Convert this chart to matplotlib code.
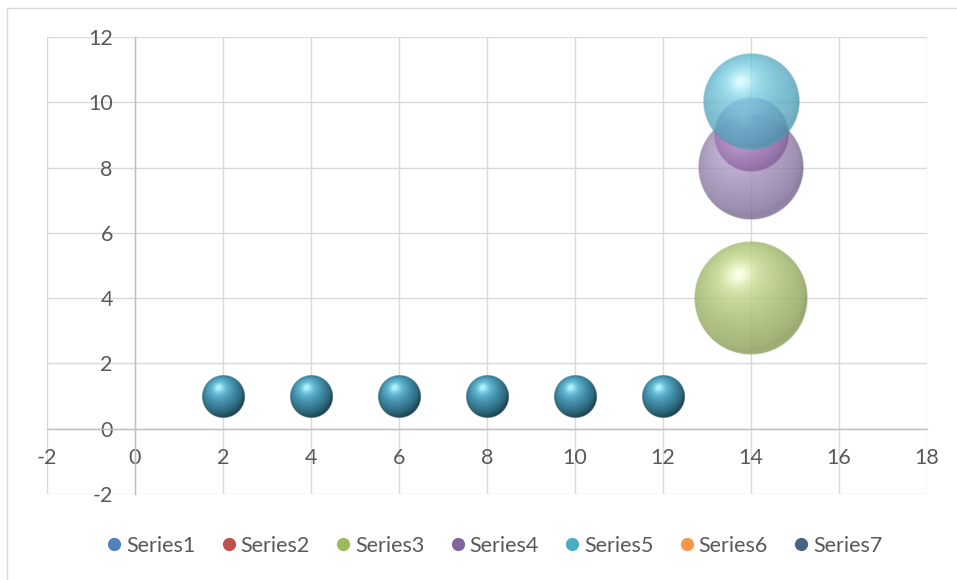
# -*- coding: utf-8 -*-
"""
Bubble chart, Excel style with shaded 3D bubbles
"""

import numpy as np
from matplotlib import pyplot as plt
from matplotlib import transforms
from matplotlib.lines import Line2D
from matplotlib.colors import to_rgb

# data
series_names = ['Series1', 'Series2', 'Series3', 'Series4', 'Series5', 'Series6', 'Series7']
legend_colors = ['#4F81BD', '#C0504D', '#9BBB59', '#8064A2', '#4BACC6', '#F79646', '#4A6285']

bub_x = [2, 4, 6, 8, 10, 12, 14, 14, 14, 14]
bub_y = [1, 1, 1, 1, 1, 1, 4, 8, 9, 10]
bub_size = [2, 2, 2, 2, 2, 2, 14, 12, 6, 10]
bub_kind = ['teal'] * 6 + ['green', 'purple', 'pink', 'cyan']

x_ticks = np.arange(-2, 19, 2)
y_ticks = np.arange(-2, 13, 2)

# shading: (dark, base, light, specular, alpha)
shades = {
    'teal':   ('#143643', '#4493b2', '#6cc4de', '#b8f4ff', 1.0),
    'green':  ('#839553', '#b0c57a', '#d0e39c', '#fcffe0', 0.85),
    'purple': ('#6e5c86', '#a08db8', '#bbaad3', '#e6dbf2', 0.80),
    'pink':   ('#7a5690', '#ad80c2', '#c898da', '#f0c8f8', 0.75),
    'cyan':   ('#418ea4', '#60b9d1', '#8cdcee', '#d4fcff', 0.78),
}

R_SCALE = 15.2 / 100.   # inches of radius per sqrt(size)
NPIX = 240
LIGHT = np.array([-0.22, 0.42, 0.88])
LIGHT = LIGHT / np.linalg.norm(LIGHT)


def sphere_img(kind):
    dark, base, light, spec = [np.array(to_rgb(c)) for c in shades[kind][:4]]
    alpha = shades[kind][4]
    g = np.linspace(-1, 1, NPIX)
    u, v = np.meshgrid(g, g)
    rho = np.sqrt(u ** 2 + v ** 2)
    z = np.sqrt(np.clip(1 - rho ** 2, 0, 1))
    d = np.clip(u * LIGHT[0] + v * LIGHT[1] + z * LIGHT[2], 0, 1)[..., None]
    col = dark + (base - dark) * d ** 0.6
    col = col + (light - col) * d ** 6
    col = col + (spec - col) * d ** 40
    # faint reflection along the lower rim
    refl = (np.clip(-v, 0, 1) * np.clip(rho - 0.75, 0, 1) * 2.5)[..., None] * 0.35
    col = col + (light - col) * np.clip(refl, 0, 1)
    a = np.clip((1 - rho) * NPIX / 3.0, 0, 1) * alpha
    return np.dstack([np.clip(col, 0, 1), a])


def sphere(ax, fig, x, y, size, kind):
    r_in = R_SCALE * np.sqrt(size)
    trans = (transforms.Affine2D().scale(r_in) + fig.dpi_scale_trans
             + transforms.ScaledTranslation(x, y, ax.transData))
    ax.imshow(sphere_img(kind), extent=(-1, 1, -1, 1), origin='lower',
              transform=trans, interpolation='bilinear', zorder=3, aspect='auto')


plt.rcParams['font.family'] = ['Lato', 'DejaVu Sans']
plt.rcParams['axes.unicode_minus'] = False
txt = '#595959'

fig = plt.figure()
fig.set_dpi(100)
fig.set_size_inches(9.57, 5.8)

ax = fig.add_axes([47 / 957., 1 - 494 / 580., 880 / 957., 457 / 580.])

# bubbles, the big ones after the small ones so cyan sits on top
for i in range(len(bub_x)):
    sphere(ax, fig, bub_x[i], bub_y[i], bub_size[i], bub_kind[i])

ax.set_xlim(-2, 18)
ax.set_ylim(-2, 12)
ax.set_aspect('auto')
ax.set_xticks(x_ticks)
ax.set_yticks(y_ticks)
ax.grid(True, color='#D9D9D9', lw=1.0, zorder=0)
ax.set_axisbelow(True)
for ln in ax.get_xgridlines() + ax.get_ygridlines():
    ln.set_clip_on(False)

ax.spines['left'].set_position(('data', 0))
ax.spines['bottom'].set_position(('data', 0))
for s in ['left', 'bottom']:
    ax.spines[s].set_color('#BFBFBF')
    ax.spines[s].set_linewidth(1.0)
for s in ['top', 'right']:
    ax.spines[s].set_visible(False)
ax.tick_params(length=0, labelsize=15.5, labelcolor=txt)
ax.tick_params(axis='x', pad=14)
ax.tick_params(axis='y', pad=16)

# legend
handles = [Line2D([], [], ls='none', marker='o', markersize=9.5, markerfacecolor=c,
                  markeredgecolor='none') for c in legend_colors]
fig.legend(handles, series_names, loc='center', bbox_to_anchor=(0.515, 1 - 546 / 580.),
           ncol=7, frameon=False, fontsize=15.5, labelcolor=txt, handletextpad=0.05,
           columnspacing=1.05, handlelength=1.0)

# chart border, only top and left edges are inside the picture
fig.add_artist(Line2D([7.5 / 957., 7.5 / 957., 1.0], [0.0, 1 - 8 / 580., 1 - 8 / 580.],
                      transform=fig.transFigure, color='#D9D9D9', lw=1.0))

fig.savefig('out.png', dpi=100)
